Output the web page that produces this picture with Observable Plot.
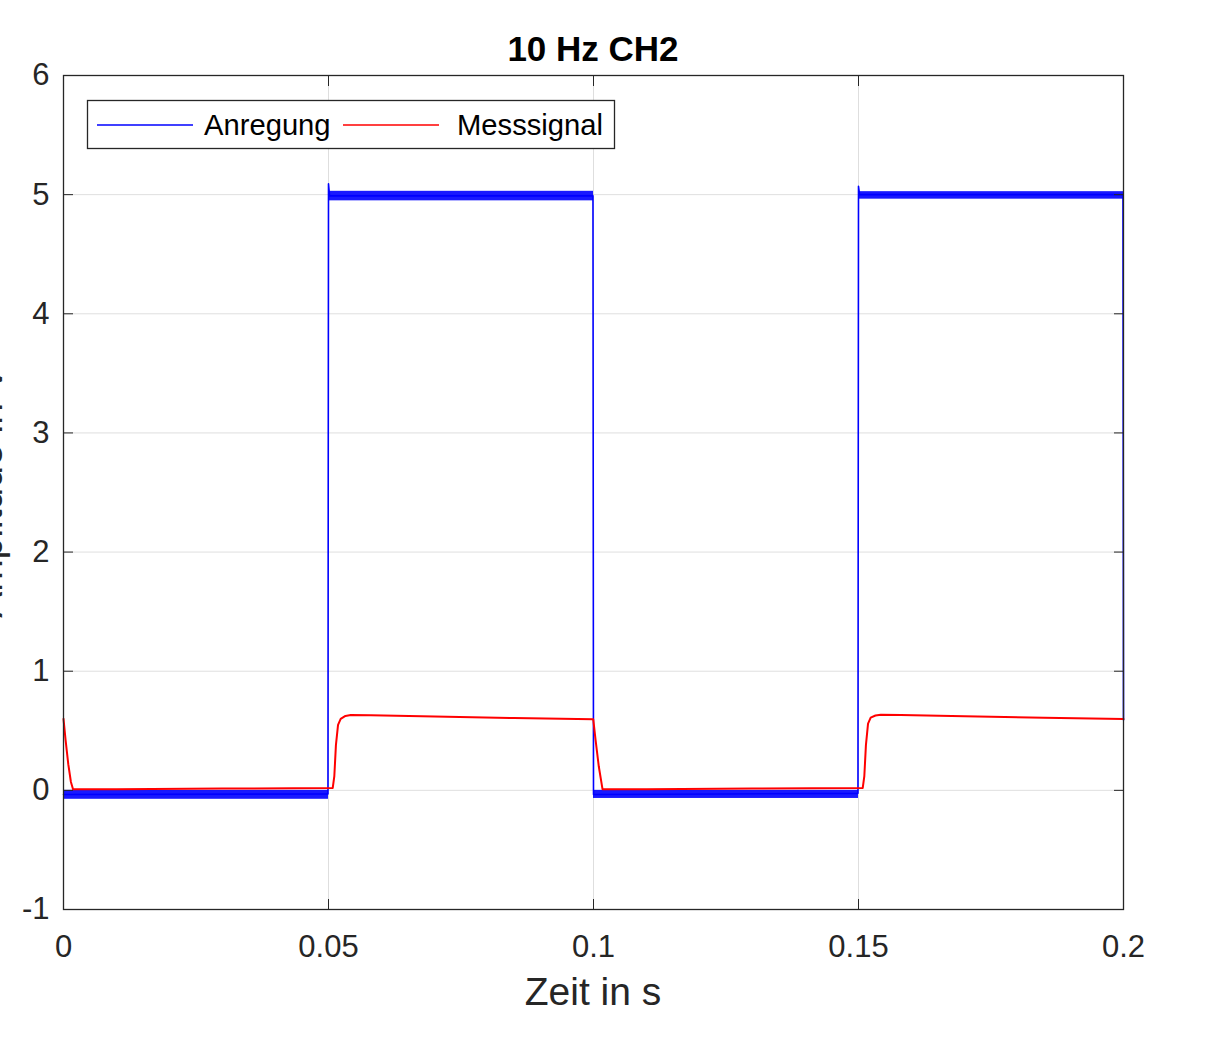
<!DOCTYPE html>
<html>
<head>
<meta charset="utf-8">
<script src="https://cdn.jsdelivr.net/npm/d3@7"></script>
<script src="https://cdn.jsdelivr.net/npm/@observablehq/plot@0.6"></script>
<style>
  body { margin: 0; background: #fff; }
  #wrap { position: relative; width: 1213px; height: 1037px; overflow: hidden; }
</style>
</head>
<body>
<div id="wrap"></div>
<script>
// ---- data ----
const title = "10 Hz CH2";
const xLabel = "Zeit in s";
const yLabel = "Amplitude in V";
const seriesNames = ["Anregung", "Messsignal"];
const seriesColors = ["#0000ff", "#ff0000"];

const xTicks = [0, 0.05, 0.1, 0.15, 0.2];
const xTickLabels = ["0", "0.05", "0.1", "0.15", "0.2"];
const yTicks = [-1, 0, 1, 2, 3, 4, 5, 6];
const yTickLabels = ["-1", "0", "1", "2", "3", "4", "5", "6"];

// Anregung (excitation) breakpoints
const anregungT = [0, 0.0499, 0.05, 0.0502, 0.075, 0.0999, 0.1, 0.125, 0.1499, 0.15, 0.1502, 0.175, 0.1999, 0.2];
const anregungV = [-0.035, -0.03, 5.09, 4.99, 4.99, 4.99, -0.035, -0.03, -0.025, 5.07, 5.0, 5.0, 5.0, 0.59];

// noise envelope of Anregung plateaus
const bandT0 = [0, 0.05, 0.1, 0.15];
const bandT1 = [0.05, 0.1, 0.15, 0.2];
const bandLo = [-0.075, 4.948, -0.068, 4.962];
const bandHi = [0.0, 5.028, 0.0, 5.025];

// Messsignal (measured) breakpoints
const messT = [0, 0.0004, 0.0009, 0.0014, 0.0018, 0.01, 0.03, 0.0508, 0.0511, 0.0514, 0.0518, 0.0523, 0.0532, 0.0542, 0.058, 0.07, 0.085, 0.09995,
               0.1004, 0.101, 0.1017, 0.11, 0.13, 0.1508, 0.1511, 0.1514, 0.1518, 0.1523, 0.1532, 0.1542, 0.158, 0.17, 0.185, 0.2];
const messV = [0.6, 0.42, 0.22, 0.07, 0.01, 0.01, 0.015, 0.02, 0.12, 0.38, 0.55, 0.6, 0.625, 0.632, 0.63, 0.62, 0.607, 0.597,
               0.42, 0.2, 0.01, 0.01, 0.015, 0.02, 0.12, 0.38, 0.56, 0.61, 0.628, 0.635, 0.632, 0.622, 0.61, 0.598];

// ---- tables built from the arrays ----
const anregung = anregungT.map((t, i) => ({t, v: anregungV[i]}));
const mess = messT.map((t, i) => ({t, v: messV[i]}));
const bands = bandT0.map((t0, i) => ({t0, t1: bandT1[i], lo: bandLo[i], hi: bandHi[i]}));

const ink = "#262626";
const fontFamily = "'Liberation Sans', Arial, Helvetica, sans-serif";

const chart = Plot.plot({
  width: 1213,
  height: 1037,
  marginLeft: 63,
  marginRight: 90,
  marginTop: 75,
  marginBottom: 128,
  style: {fontFamily, background: "#fff", color: ink},
  x: {domain: [0, 0.2], label: null},
  y: {domain: [-1, 6], label: null},
  marks: [
    Plot.gridX(xTicks, {stroke: "#000", strokeOpacity: 0.13, strokeWidth: 1}),
    Plot.gridY(yTicks, {stroke: "#000", strokeOpacity: 0.13, strokeWidth: 1}),
    Plot.rect(bands, {x1: "t0", x2: "t1", y1: "lo", y2: "hi", fill: seriesColors[0], fillOpacity: 0.9}),
    Plot.line(anregung, {x: "t", y: "v", stroke: seriesColors[0], strokeWidth: 1.6}),
    Plot.line(mess, {x: "t", y: "v", stroke: seriesColors[1], strokeWidth: 2, curve: "linear"}),
    Plot.frame({stroke: ink, strokeWidth: 1.3}),
    Plot.axisX(xTicks, {anchor: "bottom", tickSize: -10, tickPadding: 35, fontSize: 31, color: ink,
      tickFormat: d => xTickLabels[xTicks.indexOf(d)], label: null}),
    Plot.axisX(xTicks, {anchor: "top", tickSize: -10, tickFormat: () => "", color: ink, label: null}),
    Plot.axisY(yTicks, {anchor: "left", tickSize: -10, tickPadding: 24, fontSize: 31, color: ink,
      tickFormat: d => yTickLabels[yTicks.indexOf(d)], label: null}),
    Plot.axisY(yTicks, {anchor: "right", tickSize: -10, tickFormat: () => "", color: ink, label: null})
  ]
});

document.getElementById("wrap").appendChild(chart);

// ---- title, axis labels, legend ----
const svg = d3.select(chart);
svg.append("text").attr("x", 593).attr("y", 61).attr("text-anchor", "middle")
  .attr("font-family", fontFamily).attr("font-size", 35).attr("font-weight", "bold").attr("fill", "#000")
  .text(title);
svg.append("text").attr("x", 593).attr("y", 1005).attr("text-anchor", "middle")
  .attr("font-family", fontFamily).attr("font-size", 39).attr("fill", ink)
  .text(xLabel);
svg.append("text").attr("transform", "translate(2,492) rotate(-90)").attr("text-anchor", "middle")
  .attr("font-family", fontFamily).attr("font-size", 39).attr("fill", ink)
  .text(yLabel);

const lg = svg.append("g");
lg.append("rect").attr("x", 87.5).attr("y", 100.5).attr("width", 527).attr("height", 48)
  .attr("fill", "#fff").attr("stroke", ink).attr("stroke-width", 1.3);
const legendLineX = [97, 343];
const legendTextX = [204, 457];
const lineLen = 96;
seriesNames.forEach((name, i) => {
  lg.append("line").attr("x1", legendLineX[i]).attr("x2", legendLineX[i] + lineLen).attr("y1", 125).attr("y2", 125)
    .attr("stroke", seriesColors[i]).attr("stroke-width", 1.3);
  lg.append("text").attr("x", legendTextX[i]).attr("y", 134.5).attr("text-anchor", "start")
    .attr("font-family", fontFamily).attr("font-size", 29.2).attr("fill", "#000")
    .text(name);
});
</script>
</body>
</html>
